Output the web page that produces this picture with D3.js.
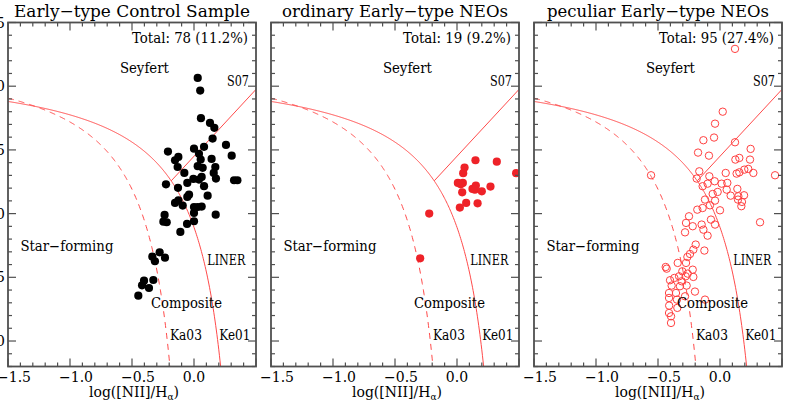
<!DOCTYPE html>
<html>
<head>
<meta charset="utf-8">
<script src="https://cdn.jsdelivr.net/npm/d3@7"></script>
<style>
  body { margin: 0; background: #fff; }
  svg { display: block; }
  text { font-family: "DejaVu Serif", "Liberation Serif", serif; fill: #000; }
</style>
</head>
<body>
<div id="chart"></div>
<script>
// panel titles and totals
var titles = ["Early\u2212type Control Sample", "ordinary Early\u2212type NEOs", "peculiar Early\u2212type NEOs"];
var totals = ["Total: 78 (11.2%)", "Total: 19 (9.2%)", "Total: 95 (27.4%)"];

// log([NII]/Ha), log([OIII]/Hb) pairs
var controlPts = [
  [0.03, 1.065], [0.05, 0.966], [0.056, 0.749], [0.129, 0.712], [0.164, 0.673], [0.15, 0.589],
  [0.258, 0.539], [0.304, 0.455], [0.0, 0.51], [0.081, 0.524], [-0.21, 0.487], [-0.126, 0.445],
  [-0.153, 0.419], [-0.132, 0.366], [0.04, 0.469], [0.054, 0.424], [0.142, 0.429], [0.03, 0.372],
  [0.07, 0.359], [0.172, 0.366], [0.159, 0.319], [0.177, 0.275], [-0.078, 0.319], [-0.226, 0.23],
  [-0.005, 0.272], [0.062, 0.288], [0.04, 0.267], [-0.054, 0.241], [0.081, 0.215], [-0.129, 0.202],
  [-0.04, 0.149], [-0.054, 0.131], [0.11, 0.141], [-0.153, 0.084], [-0.126, 0.105], [-0.091, 0.063],
  [0.0, 0.052], [0.03, 0.052], [0.062, 0.055], [0.0, 0.005], [0.0, -0.06], [-0.056, -0.081],
  [-0.11, -0.144], [-0.237, -0.01], [-0.247, -0.063], [-0.22, -0.068], [0.175, -0.008], [0.323, 0.262],
  [0.35, 0.262], [-0.277, -0.304], [-0.336, -0.338], [-0.234, -0.346], [-0.315, -0.374], [-0.328, -0.521],
  [-0.403, -0.526], [-0.419, -0.563], [-0.363, -0.584], [-0.449, -0.644]
];
var ordinaryPts = [
  [0.149, 0.419], [0.321, 0.408], [0.477, 0.317], [0.061, 0.361], [0.05, 0.317], [0.007, 0.241],
  [0.047, 0.241], [0.042, 0.167], [0.125, 0.194], [0.152, 0.22], [0.144, 0.188], [0.2, 0.175],
  [0.27, 0.212], [0.074, 0.084], [0.166, 0.081], [0.023, 0.047], [-0.224, 0.0], [-0.297, -0.351],
  [0.03, 0.23]
];
var peculiarPts = [
  [0.121, 1.293], [0.022, 0.80], [-0.04, 0.706], [-0.134, 0.576], [-0.048, 0.597], [0.121, 0.56],
  [-0.177, 0.479], [-0.089, 0.455], [0.247, 0.508], [0.242, 0.424], [0.124, 0.424], [0.156, 0.437],
  [0.196, 0.345], [0.228, 0.351], [0.269, 0.319], [0.134, 0.314], [0.156, 0.324], [0.046, 0.319],
  [0.444, 0.301], [-0.167, 0.332], [-0.188, 0.275], [-0.086, 0.293], [-0.556, 0.301], [-0.1, 0.235],
  [-0.043, 0.254], [-0.14, 0.215], [0.013, 0.235], [0.059, 0.241], [0.054, 0.188], [-0.019, 0.17],
  [-0.059, 0.154], [0.086, 0.141], [0.14, 0.194], [0.148, 0.136], [0.194, 0.144], [0.145, 0.11],
  [0.177, 0.092], [0.172, 0.058], [-0.121, 0.11], [-0.04, 0.102], [-0.081, 0.065], [0.0, 0.026],
  [-0.183, 0.031], [-0.14, 0.044], [-0.25, -0.021], [0.323, -0.068], [-0.073, -0.047], [-0.274, -0.073],
  [-0.22, -0.099], [-0.148, -0.086], [-0.04, -0.086], [-0.134, -0.126], [-0.282, -0.147], [-0.1, -0.173],
  [-0.196, -0.243], [-0.215, -0.283], [-0.126, -0.29], [-0.242, -0.317], [-0.263, -0.34], [-0.274, -0.387],
  [-0.341, -0.387], [-0.22, -0.44], [-0.304, -0.453], [-0.261, -0.471], [-0.438, -0.419], [-0.43, -0.432],
  [-0.368, -0.505], [-0.33, -0.492], [-0.277, -0.492], [-0.215, -0.497], [-0.309, -0.531], [-0.403, -0.523],
  [-0.39, -0.565], [-0.323, -0.57], [-0.269, -0.565], [-0.202, -0.612], [-0.411, -0.623], [-0.355, -0.623],
  [-0.282, -0.649], [-0.411, -0.662], [-0.347, -0.675], [-0.121, -0.675], [-0.41, -0.722], [-0.344, -0.74],
  [-0.411, -0.78], [-0.395, -0.806], [-0.395, -0.858]
];

var xTicks = [-1.5, -1.0, -0.5, 0.0];
var xTickLabels = ["\u22121.5", "\u22121.0", "\u22120.5", "0.0"];
var yTicks = [1.5, 1.0, 0.5, 0.0, -0.5, -1.0];
var yTickLabels = ["1.5", "1.0", "0.5", "0.0", "\u22120.5", "\u22121.0"];

// demarcation lines
function ke01(x) { return 0.61 / (x - 0.47) + 1.19; }
function ka03(x) { return 0.61 / (x - 0.05) + 1.3; }
function s07(x) { return 1.05 * x + 0.45; }

var width = 789, height = 415;
var lefts = [8, 271, 534], pw = 248, plotTop = 22.5, plotBottom = 366.5;
var red = "#ff4a4a", frameCol = "#505050";

var svg = d3.select("#chart").append("svg")
    .attr("width", width)
    .attr("height", height);

var datasets = [controlPts, ordinaryPts, peculiarPts];
var titleW = [236, 226, 222], totalW = [116, 108, 115];

function fitText(sel, w) {
    return sel.attr("textLength", w).attr("lengthAdjust", "spacingAndGlyphs");
}

lefts.forEach(function (left, p) {
    var x = d3.scaleLinear().domain([-1.5, 0.5]).range([left, left + pw]);
    var y = d3.scaleLinear().domain([-1.2, 1.5]).range([plotBottom, plotTop]);
    var g = svg.append("g");

    var clipId = "clip" + p;
    g.append("clipPath").attr("id", clipId)
        .append("rect").attr("x", left).attr("y", plotTop).attr("width", pw).attr("height", plotBottom - plotTop);

    var line = d3.line().x(function (d) { return x(d[0]); }).y(function (d) { return y(d[1]); });

    // Ke01 solid, Ka03 dashed
    var keEnd = 0.47 + 0.61 / (-1.2 - 1.19);
    var kaEnd = 0.05 + 0.61 / (-1.2 - 1.3);
    var kePts = d3.range(-1.5, keEnd, 0.005).concat([keEnd]).map(function (v) { return [v, ke01(v)]; });
    var kaPts = d3.range(-1.5, kaEnd, 0.005).concat([kaEnd]).map(function (v) { return [v, ka03(v)]; });
    // S07 starts where it meets Ke01
    var xs = d3.range(-0.4, 0.1, 0.0005).find(function (v) { return s07(v) >= ke01(v); });
    var sPts = [[xs, s07(xs)], [0.5, s07(0.5)]];

    var curves = g.append("g").attr("clip-path", "url(#" + clipId + ")");
    curves.append("path").attr("d", line(kePts)).attr("fill", "none").attr("stroke", red).attr("stroke-width", 1);
    curves.append("path").attr("d", line(kaPts)).attr("fill", "none").attr("stroke", red).attr("stroke-width", 1)
        .attr("stroke-dasharray", "6,5");
    curves.append("path").attr("d", line(sPts)).attr("fill", "none").attr("stroke", red).attr("stroke-width", 1);

    // points
    var dots = g.append("g").attr("clip-path", "url(#" + clipId + ")");
    dots.selectAll("circle")
        .data(datasets[p])
        .enter().append("circle")
        .attr("cx", function (d) { return x(d[0]); })
        .attr("cy", function (d) { return y(d[1]); })
        .attr("r", p == 2 ? 3.7 : 4.1)
        .style("fill", p == 0 ? "#000" : (p == 1 ? "#ee2228" : "none"))
        .style("stroke", p == 2 ? "#ff4040" : "none")
        .style("stroke-width", 1);

    // frame and ticks (all four sides, inward)
    var ax = g.append("g").attr("stroke", frameCol);
    ax.append("rect").attr("x", left).attr("y", plotTop).attr("width", pw).attr("height", plotBottom - plotTop)
        .attr("fill", "none").attr("stroke-width", 1.8);
    d3.range(-15, 6).forEach(function (i) {
        var v = i / 10, len = (i % 5 == 0) ? 8 : 4;
        ax.append("line").attr("x1", x(v)).attr("x2", x(v)).attr("y1", plotBottom).attr("y2", plotBottom - len).attr("stroke-width", 1.2);
        ax.append("line").attr("x1", x(v)).attr("x2", x(v)).attr("y1", plotTop).attr("y2", plotTop + len).attr("stroke-width", 1.2);
    });
    d3.range(-12, 16).forEach(function (i) {
        var v = i / 10, len = (i % 5 == 0) ? 8 : 4;
        ax.append("line").attr("y1", y(v)).attr("y2", y(v)).attr("x1", left).attr("x2", left + len).attr("stroke-width", 1.2);
        ax.append("line").attr("y1", y(v)).attr("y2", y(v)).attr("x1", left + pw).attr("x2", left + pw - len).attr("stroke-width", 1.2);
    });

    // x tick labels
    g.selectAll(".xl").data(xTicks).enter().append("text")
        .attr("x", function (d, i) { return x(d) + (d < 0 ? 6 : 0); })
        .attr("y", 382)
        .attr("text-anchor", "middle")
        .style("font-size", "14px")
        .text(function (d, i) { return xTickLabels[i]; });

    if (p == 0) {
        g.selectAll(".yl").data(yTicks).enter().append("text")
            .attr("x", left - 3)
            .attr("y", function (d) { return y(d) + 5; })
            .attr("text-anchor", "end")
            .style("font-size", "14px")
            .text(function (d, i) { return yTickLabels[i]; });
    }

    // axis title
    var xt = g.append("text").attr("x", left + pw / 2 + 2).attr("y", 397).attr("text-anchor", "middle")
        .style("font-size", "14px");
    xt.append("tspan").text("log([NII]/H");
    xt.append("tspan").text("\u03b1").style("font-size", "9px").attr("dy", 3);
    xt.append("tspan").text(")").attr("dy", -3);

    // title and total
    fitText(svg.append("text").attr("x", left + pw / 2).attr("y", 17).attr("text-anchor", "middle")
        .style("font-size", "17px").text(titles[p]), titleW[p]);
    fitText(svg.append("text").attr("x", left + pw - 8).attr("y", 43).attr("text-anchor", "end")
        .style("font-size", "14px").text(totals[p]), totalW[p]);

    // region labels
    var lab = function (t, vx, vy, anchor, w) {
        fitText(g.append("text").attr("x", x(vx)).attr("y", y(vy)).attr("text-anchor", anchor)
            .style("font-size", "14px").text(t), w);
    };
    lab("Seyfert", -0.40, 1.107, "middle", 49);
    lab("Star\u2212forming", -1.40, -0.296, "start", 93);
    lab("LINER", 0.107, -0.40, "start", 38);
    lab("Composite", -0.347, -0.74, "start", 71);
    lab("Ka03", -0.194, -0.995, "start", 32);
    lab("Ke01", 0.204, -0.995, "start", 31);
    fitText(g.append("text").attr("x", left + pw - 7).attr("y", y(1.0)).attr("text-anchor", "end")
        .style("font-size", "14px").text("S07"), 22);
});
</script>
</body>
</html>
